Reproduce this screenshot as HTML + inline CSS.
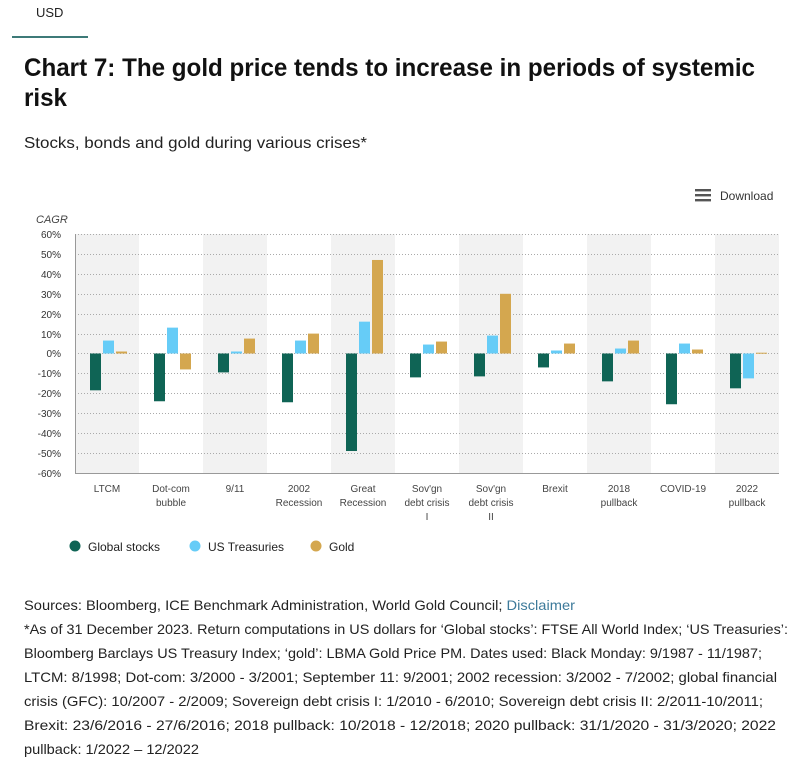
<!DOCTYPE html>
<html><head><meta charset="utf-8"><style>
html,body{margin:0;padding:0;background:#fff;}
svg{display:block;font-family:"Liberation Sans",Arial,sans-serif;}
</style></head><body>
<svg width="792" height="758" viewBox="0 0 792 758" xmlns="http://www.w3.org/2000/svg">
<text x="36" y="17" font-size="13" fill="#222">USD</text>
<rect x="12" y="36" width="76" height="2" fill="#3d7a78"/>
<text x="24" y="76" font-size="25" font-weight="bold" fill="#111" textLength="731" lengthAdjust="spacingAndGlyphs">Chart 7: The gold price tends to increase in periods of systemic</text>
<text x="24" y="106" font-size="25" font-weight="bold" fill="#111" textLength="43" lengthAdjust="spacingAndGlyphs">risk</text>
<text x="24" y="148" font-size="16" fill="#222" textLength="343" lengthAdjust="spacingAndGlyphs">Stocks, bonds and gold during various crises*</text>
<g fill="#555"><rect x="695" y="189" width="16" height="2.4"/><rect x="695" y="194" width="16" height="2.4"/><rect x="695" y="199" width="16" height="2.4"/></g>
<text x="720" y="200" font-size="12" fill="#333">Download</text>
<text x="36" y="223" font-size="11" font-style="italic" fill="#444">CAGR</text>
<g fill="#f2f2f2">
<rect x="75" y="234" width="64" height="239"/><rect x="203" y="234" width="64" height="239"/><rect x="331" y="234" width="64" height="239"/><rect x="459" y="234" width="64" height="239"/><rect x="587" y="234" width="64" height="239"/><rect x="715" y="234" width="64" height="239"/>
</g>
<g stroke="#aaa" stroke-width="1" stroke-dasharray="1,2">
<line x1="75" x2="779" y1="234.5" y2="234.5"/><line x1="75" x2="779" y1="254.5" y2="254.5"/><line x1="75" x2="779" y1="274.5" y2="274.5"/><line x1="75" x2="779" y1="294.5" y2="294.5"/><line x1="75" x2="779" y1="314.5" y2="314.5"/><line x1="75" x2="779" y1="334.5" y2="334.5"/><line x1="75" x2="779" y1="353.5" y2="353.5"/><line x1="75" x2="779" y1="373.5" y2="373.5"/><line x1="75" x2="779" y1="393.5" y2="393.5"/><line x1="75" x2="779" y1="413.5" y2="413.5"/><line x1="75" x2="779" y1="433.5" y2="433.5"/><line x1="75" x2="779" y1="453.5" y2="453.5"/>
</g>
<line x1="75.5" x2="75.5" y1="234" y2="473" stroke="#999"/>
<line x1="75" x2="779" y1="473.5" y2="473.5" stroke="#999"/>
<g font-size="10" fill="#333" text-anchor="end">
<text x="61" y="238">60%</text><text x="61" y="258">50%</text><text x="61" y="278">40%</text><text x="61" y="298">30%</text><text x="61" y="318">20%</text><text x="61" y="338">10%</text><text x="61" y="357">0%</text><text x="61" y="377">-10%</text><text x="61" y="397">-20%</text><text x="61" y="417">-30%</text><text x="61" y="437">-40%</text><text x="61" y="457">-50%</text><text x="61" y="477">-60%</text>
</g>
<g id="bars"></g>
<g font-size="10" fill="#444" text-anchor="middle" id="labels"></g>
<g font-size="12" fill="#222">
<circle cx="75" cy="546" r="5.5" fill="#0f6455"/><text x="88" y="551">Global stocks</text>
<circle cx="195" cy="546" r="5.5" fill="#66ccf7"/><text x="208" y="551">US Treasuries</text>
<circle cx="316" cy="546" r="5.5" fill="#d4a74f"/><text x="329" y="551">Gold</text>
</g>
<g font-size="14" fill="#222">
<text x="24" y="610" textLength="551" lengthAdjust="spacingAndGlyphs">Sources: Bloomberg, ICE Benchmark Administration, World Gold Council; <tspan fill="#3d7a9a">Disclaimer</tspan></text>
<text x="24" y="634" textLength="764" lengthAdjust="spacingAndGlyphs">*As of 31 December 2023. Return computations in US dollars for ‘Global stocks’: FTSE All World Index; ‘US Treasuries’:</text>
<text x="24" y="658" textLength="738" lengthAdjust="spacingAndGlyphs">Bloomberg Barclays US Treasury Index; ‘gold’: LBMA Gold Price PM. Dates used: Black Monday: 9/1987 - 11/1987;</text>
<text x="24" y="682" textLength="753" lengthAdjust="spacingAndGlyphs">LTCM: 8/1998; Dot-com: 3/2000 - 3/2001; September 11: 9/2001; 2002 recession: 3/2002 - 7/2002; global financial</text>
<text x="24" y="706" textLength="739" lengthAdjust="spacingAndGlyphs">crisis (GFC): 10/2007 - 2/2009; Sovereign debt crisis I: 1/2010 - 6/2010; Sovereign debt crisis II: 2/2011-10/2011;</text>
<text x="24" y="730" textLength="752" lengthAdjust="spacingAndGlyphs">Brexit: 23/6/2016 - 27/6/2016; 2018 pullback: 10/2018 - 12/2018; 2020 pullback: 31/1/2020 - 31/3/2020; 2022</text>
<text x="24" y="754" textLength="175" lengthAdjust="spacingAndGlyphs">pullback: 1/2022 – 12/2022</text>
</g>
</svg>
<script>
var d=[[-18.5,6.5,1],[-24,13,-8],[-9.5,1,7.5],[-24.5,6.5,10],[-49,16,47],[-12,4.5,6],[-11.5,9,30],[-7,1.5,5],[-14,2.5,6.5],[-25.5,5,2],[-17.5,-12.5,0.4]];
var L=[["LTCM"],["Dot-com","bubble"],["9/11"],["2002","Recession"],["Great","Recession"],["Sov'gn","debt crisis","I"],["Sov'gn","debt crisis","II"],["Brexit"],["2018","pullback"],["COVID-19"],["2022","pullback"]];
var c=["#0f6455","#66ccf7","#d4a74f"],ns="http://www.w3.org/2000/svg",b=document.getElementById("bars"),lb=document.getElementById("labels");
var z=353.5,s=1.99;
d.forEach(function(r,i){var x0=75+64*i;r.forEach(function(v,j){var e=document.createElementNS(ns,"rect");var h=Math.abs(v)*s;e.setAttribute("x",x0+15+13*j);e.setAttribute("width",11);e.setAttribute("y",v>=0?z-h:z);e.setAttribute("height",Math.max(h,1));e.setAttribute("fill",c[j]);b.appendChild(e);});
L[i].forEach(function(t,k){var e=document.createElementNS(ns,"text");e.setAttribute("x",x0+32);e.setAttribute("y",492+k*14);e.textContent=t;lb.appendChild(e);});});
</script>
</body></html>
